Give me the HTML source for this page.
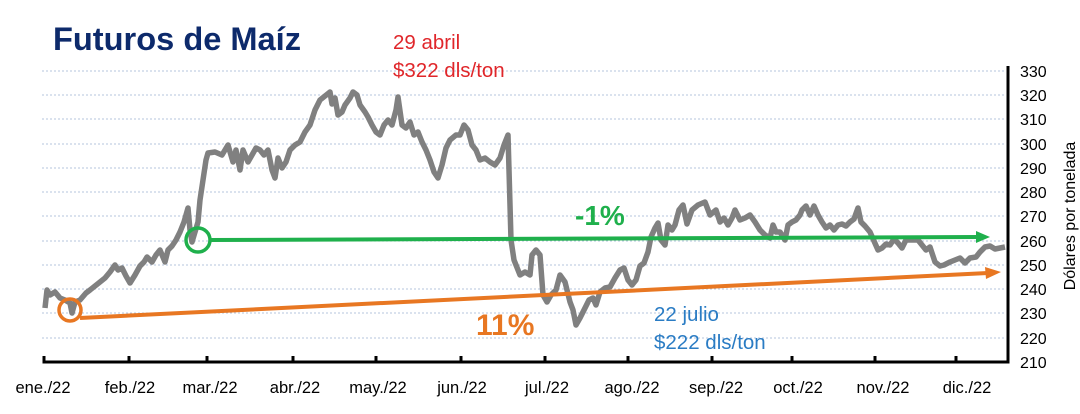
<!DOCTYPE html>
<html><head><meta charset="utf-8"><style>
body{margin:0;background:#fff;}
svg text{font-family:"Liberation Sans",sans-serif;}
</style></head><body>
<svg width="1080" height="409" viewBox="0 0 1080 409" xmlns="http://www.w3.org/2000/svg">
<rect width="1080" height="409" fill="#fff"/>
<g stroke="#b4c4dc" stroke-width="1" stroke-dasharray="2,2">
<line x1="42" y1="71" x2="1006" y2="71"/><line x1="42" y1="95" x2="1006" y2="95"/><line x1="42" y1="119" x2="1006" y2="119"/><line x1="42" y1="144" x2="1006" y2="144"/><line x1="42" y1="168" x2="1006" y2="168"/><line x1="42" y1="192" x2="1006" y2="192"/><line x1="42" y1="216" x2="1006" y2="216"/><line x1="42" y1="241" x2="1006" y2="241"/><line x1="42" y1="265" x2="1006" y2="265"/><line x1="42" y1="289" x2="1006" y2="289"/><line x1="42" y1="313" x2="1006" y2="313"/><line x1="42" y1="338" x2="1006" y2="338"/>
</g>
<g stroke="#000" stroke-width="3" fill="none">
<polyline points="44,356 44,362 1008,362 1008,66"/>
<line x1="129" y1="362" x2="129" y2="356"/><line x1="207" y1="362" x2="207" y2="356"/><line x1="293" y1="362" x2="293" y2="356"/><line x1="376" y1="362" x2="376" y2="356"/><line x1="461" y1="362" x2="461" y2="356"/><line x1="545" y1="362" x2="545" y2="356"/><line x1="628" y1="362" x2="628" y2="356"/><line x1="712" y1="362" x2="712" y2="356"/><line x1="792" y1="362" x2="792" y2="356"/><line x1="875" y1="362" x2="875" y2="356"/><line x1="956" y1="362" x2="956" y2="356"/>
</g>
<polyline fill="none" stroke="#808080" stroke-width="5.5" stroke-linejoin="round" points="45,308 47,290 50,295 55,292 60,298 65,300 70,303 72,313 75,302 80,300 86,293 90,290 95,286 100,282 105,278 110,272 115,265 118,270 122,268 126,276 130,283 135,275 140,266 144,262 147,257 152,262 156,255 160,250 165,262 168,250 172,246 176,240 180,232 184,222 188,208 190,230 192,242 195,232 198,222 200,200 203,180 206,160 208,153 215,152 222,155 228,145 233,162 236,150 240,170 243,150 248,162 252,155 256,148 260,150 264,155 268,150 272,170 275,178 278,158 282,168 286,162 290,150 295,145 300,142 305,132 310,125 315,110 320,100 325,96 330,92 332,104 335,98 338,115 342,112 345,105 350,98 353,92 357,95 360,105 365,112 368,117 372,125 376,132 380,135 384,125 388,120 392,125 396,110 398,97 402,125 406,128 410,122 414,135 418,132 422,142 426,150 430,160 434,172 438,178 442,165 446,148 450,140 456,135 460,135 464,125 468,130 472,145 476,150 480,160 485,158 490,162 495,165 500,158 504,145 508,135 511,240 514,260 520,275 525,272 530,275 532,255 536,250 540,255 543,295 547,302 551,295 556,290 560,275 565,282 570,302 573,310 576,325 580,318 585,308 589,300 593,298 596,305 600,292 605,288 610,287 615,278 620,270 624,268 628,280 632,285 636,280 640,266 644,263 648,252 651,237 655,228 658,223 661,240 665,245 668,225 672,230 675,225 679,210 683,205 687,224 692,210 698,205 705,202 710,215 716,210 720,222 724,218 728,225 732,218 735,210 740,220 745,218 750,215 755,222 760,230 765,235 770,238 773,225 776,232 780,232 785,240 788,225 792,222 796,220 800,215 802,210 806,206 810,215 814,206 818,215 822,222 826,228 830,225 834,230 838,225 842,224 846,226 850,222 854,219 858,208 861,222 865,226 870,232 874,241 878,250 882,248 886,244 890,245 894,239 898,243 902,248 906,240 910,240 914,240 918,240 922,245 926,250 930,247 935,262 940,266 944,265 950,262 955,260 960,258 965,263 970,258 976,257 980,252 985,247 990,246 995,249 1000,248 1005,247"/>
<circle cx="198" cy="240" r="12" fill="none" stroke="#1fb04c" stroke-width="3.5"/>
<line x1="210" y1="240" x2="978" y2="237" stroke="#1fb04c" stroke-width="4"/>
<polygon points="976,231 990,237 976,243" fill="#1fb04c"/>
<circle cx="70" cy="310" r="11" fill="none" stroke="#e87722" stroke-width="3.5"/>
<line x1="80" y1="318" x2="988" y2="273" stroke="#e87722" stroke-width="4"/>
<polygon points="985,267 1001,272 986,279" fill="#e87722"/>
<text x="53" y="50" font-size="32" font-weight="bold" fill="#0d2a6b" textLength="248" lengthAdjust="spacingAndGlyphs">Futuros de Maíz</text>
<text x="393" y="49" font-size="20.5" fill="#e0262a">29 abril</text>
<text x="393" y="77" font-size="20.5" fill="#e0262a">$322 dls/ton</text>
<text x="575" y="225" font-size="28" font-weight="bold" fill="#1fb04c">-1%</text>
<text x="476" y="335" font-size="30" font-weight="bold" fill="#e87722">11%</text>
<text x="654" y="321" font-size="20.5" fill="#2a7cc4">22 julio</text>
<text x="654" y="349" font-size="20.5" fill="#2a7cc4">$222 dls/ton</text>
<g font-size="16.5" fill="#000" text-anchor="middle">
<text x="43" y="393">ene./22</text><text x="130" y="393">feb./22</text><text x="210" y="393">mar./22</text><text x="295" y="393">abr./22</text><text x="378" y="393">may./22</text><text x="462" y="393">jun./22</text><text x="547" y="393">jul./22</text><text x="632" y="393">ago./22</text><text x="716" y="393">sep./22</text><text x="798" y="393">oct./22</text><text x="883" y="393">nov./22</text><text x="967" y="393">dic./22</text>
</g>
<g font-size="16" fill="#000">
<text x="1020" y="77">330</text><text x="1020" y="101">320</text><text x="1020" y="125">310</text><text x="1020" y="150">300</text><text x="1020" y="174">290</text><text x="1020" y="198">280</text><text x="1020" y="222">270</text><text x="1020" y="247">260</text><text x="1020" y="271">250</text><text x="1020" y="295">240</text><text x="1020" y="319">230</text><text x="1020" y="344">220</text><text x="1020" y="368">210</text>
</g>
<text transform="translate(1075,216) rotate(-90)" font-size="16" fill="#000" text-anchor="middle">Dólares por tonelada</text>
</svg>
</body></html>
